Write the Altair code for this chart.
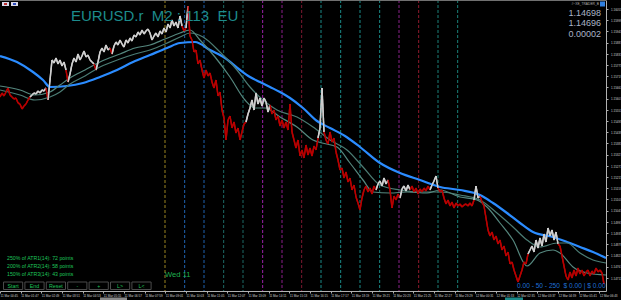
import datetime as dt
import altair as alt
import pandas as pd

# ---------------- data ----------------
START = dt.datetime(2026, 3, 11, 0, 45)   # first bar shown
STEP_MIN = 6                               # one sample every 3 M2 bars
END_MIN = 1818

# close prices, grouped in consecutive falling (d) / rising (u) runs
CLOSE_RUNS = [
    ("d", [1.15615, 1.15635, 1.15620, 1.15640, 1.15660, 1.15625, 1.15615, 1.15605,
           1.15610, 1.15585, 1.15580, 1.15555, 1.15570, 1.15580, 1.15600, 1.15615]),
    ("u", [1.15625, 1.15635, 1.15630, 1.15645, 1.15635, 1.15650, 1.15645, 1.15660]),
    ("d", [1.15600]),
    ("u", [1.15700, 1.15800, 1.15785, 1.15810, 1.15780, 1.15800, 1.15770, 1.15790, 1.15750]),
    ("d", [1.15690]),
    ("u", [1.15730, 1.15780, 1.15810, 1.15790, 1.15830, 1.15800, 1.15820, 1.15845,
           1.15815, 1.15825, 1.15800, 1.15790, 1.15780]),
    ("d", [1.15750]),
    ("u", [1.15790, 1.15840, 1.15860, 1.15840, 1.15875, 1.15850, 1.15860]),
    ("d", [1.15830]),
    ("u", [1.15870, 1.15890, 1.15875, 1.15900, 1.15880, 1.15865, 1.15900, 1.15885,
           1.15910, 1.15895, 1.15925, 1.15915, 1.15940, 1.15925, 1.15950, 1.15930,
           1.15945, 1.15955, 1.15935, 1.15900, 1.15920, 1.15935, 1.15915, 1.15945,
           1.15930, 1.15960, 1.15940, 1.15980, 1.15960, 1.16000, 1.15970, 1.15990,
           1.15960, 1.16020, 1.15970]),
    ("d", [1.15945, 1.15960]),
    ("u", [1.16070]),
    ("d", [1.15920, 1.15900, 1.15840, 1.15850, 1.15780, 1.15800, 1.15750, 1.15710,
           1.15750, 1.15720, 1.15735, 1.15690, 1.15660, 1.15700, 1.15620, 1.15640,
           1.15550, 1.15510, 1.15400, 1.15500, 1.15520, 1.15460, 1.15490, 1.15435,
           1.15460, 1.15400, 1.15440, 1.15480, 1.15490]),
    ("u", [1.15530, 1.15560, 1.15600, 1.15550, 1.15635, 1.15580, 1.15610, 1.15570,
           1.15610, 1.15590, 1.15540, 1.15575]),
    ("d", [1.15530, 1.15550, 1.15500, 1.15520, 1.15470, 1.15500, 1.15460, 1.15490,
           1.15450, 1.15580, 1.15440, 1.15400, 1.15360, 1.15400, 1.15320, 1.15350,
           1.15310, 1.15375, 1.15325, 1.15360, 1.15320, 1.15370, 1.15350, 1.15410]),
    ("u", [1.15460, 1.15660, 1.15440]),
    ("d", [1.15400, 1.15380, 1.15440, 1.15390, 1.15410, 1.15340, 1.15300, 1.15250,
           1.15260, 1.15210, 1.15240, 1.15190, 1.15210, 1.15150, 1.15175, 1.15115,
           1.15085, 1.15050, 1.15110, 1.15150, 1.15170, 1.15140, 1.15160, 1.15130,
           1.15170, 1.15150]),
    ("u", [1.15180, 1.15195, 1.15170, 1.15210, 1.15180, 1.15200]),
    ("d", [1.15150, 1.15060, 1.15120, 1.15100, 1.15130, 1.15110]),
    ("u", [1.15155, 1.15170, 1.15145, 1.15175, 1.15150]),
    ("d", [1.15170, 1.15140, 1.15160, 1.15130, 1.15155, 1.15140, 1.15160, 1.15145,
           1.15170, 1.15150]),
    ("u", [1.15175, 1.15195, 1.15220, 1.15160]),
    ("d", [1.15140, 1.15150, 1.15110, 1.15080, 1.15100, 1.15070, 1.15090, 1.15060,
           1.15085, 1.15070, 1.15080, 1.15065, 1.15075, 1.15080, 1.15070, 1.15085,
           1.15070, 1.15100]),
    ("u", [1.15170, 1.15110, 1.15120]),
    ("d", [1.15090, 1.15070, 1.15010, 1.14950, 1.14920, 1.14940, 1.14900, 1.14920,
           1.14880, 1.14900, 1.14850, 1.14870, 1.14820, 1.14840, 1.14780, 1.14790,
           1.14750, 1.14720, 1.14690, 1.14720, 1.14750, 1.14790, 1.14780, 1.14830]),
    ("u", [1.14850, 1.14870, 1.14840, 1.14900, 1.14860, 1.14910, 1.14870, 1.14930,
           1.14890, 1.14960, 1.14920, 1.14950, 1.14900, 1.14940, 1.14880]),
    ("d", [1.14870, 1.14820, 1.14770, 1.14720, 1.14700, 1.14740, 1.14710, 1.14750,
           1.14720, 1.14760, 1.14730, 1.14750, 1.14720, 1.14740, 1.14750, 1.14720,
           1.14745, 1.14730, 1.14760, 1.14740, 1.14750, 1.14735, 1.14680]),
]

# moving averages: (minutes from start, price)
MA_FAST = [(0, 1.15670), (60, 1.15650), (105, 1.15625), (150, 1.15640), (180, 1.15675),
           (210, 1.15710), (255, 1.15750), (300, 1.15790), (360, 1.15830), (405, 1.15860),
           (450, 1.15875), (495, 1.15905), (540, 1.15935), (570, 1.15950), (600, 1.15900),
           (645, 1.15815), (690, 1.15715), (735, 1.15600), (765, 1.15560), (795, 1.15560),
           (840, 1.15515), (891, 1.15465), (939, 1.15400), (966, 1.15385), (1011, 1.15365),
           (1050, 1.15285), (1089, 1.15200), (1119, 1.15140), (1170, 1.15135), (1221, 1.15140),
           (1281, 1.15135), (1320, 1.15150), (1380, 1.15115), (1431, 1.15100), (1461, 1.15065),
           (1500, 1.14985), (1539, 1.14900), (1581, 1.14770), (1620, 1.14835), (1659, 1.14850),
           (1680, 1.14835), (1719, 1.14765), (1761, 1.14735), (1818, 1.14725)]
MA_MID = [(0, 1.15650), (60, 1.15625), (105, 1.15600), (150, 1.15615), (180, 1.15640),
          (210, 1.15680), (255, 1.15720), (300, 1.15765), (360, 1.15805), (405, 1.15830),
          (450, 1.15850), (495, 1.15880), (540, 1.15915), (570, 1.15935), (609, 1.15915),
          (660, 1.15840), (711, 1.15750), (750, 1.15665), (789, 1.15600), (831, 1.15550),
          (891, 1.15515), (939, 1.15465), (990, 1.15400), (1041, 1.15350), (1089, 1.15265),
          (1140, 1.15175), (1200, 1.15150), (1260, 1.15140), (1320, 1.15140), (1380, 1.15125),
          (1440, 1.15100), (1491, 1.15035), (1539, 1.14965), (1581, 1.14900), (1620, 1.14865),
          (1671, 1.14885), (1701, 1.14885), (1740, 1.14835), (1779, 1.14800), (1818, 1.14785)]
MA_SLOW = [(0, 1.15820), (51, 1.15790), (99, 1.15740), (129, 1.15700), (150, 1.15665),
           (201, 1.15670), (249, 1.15685), (300, 1.15715), (351, 1.15750), (399, 1.15790),
           (450, 1.15825), (501, 1.15860), (540, 1.15885), (585, 1.15890), (630, 1.15850),
           (675, 1.15810), (720, 1.15750), (750, 1.15715), (780, 1.15690), (810, 1.15665),
           (840, 1.15640), (870, 1.15610), (909, 1.15560), (951, 1.15495), (990, 1.15460),
           (1035, 1.15420), (1080, 1.15365), (1140, 1.15285), (1200, 1.15235), (1260, 1.15200),
           (1320, 1.15165), (1380, 1.15150), (1440, 1.15125), (1479, 1.15085), (1521, 1.15035),
           (1560, 1.14985), (1599, 1.14940), (1659, 1.14915), (1701, 1.14890), (1740, 1.14865),
           (1779, 1.14840), (1818, 1.14810)]

# vertical session lines (minutes from start) and their colours
VLINE_MIN = [495, 554, 612, 671, 729, 788, 846, 905, 963, 1022, 1080, 1139, 1197, 1256, 1314, 1373]
VLINE_COL = ["#9a8420", "#1f63b0", "#1f63b0", "#1d6b66", "#1d6b66", "#9b22a8", "#8c1f8c",
             "#7c1830", "#1a8a88", "#1a8a88", "#1a8a88", "#1a8a88", "#8a238a", "#8e1a2c",
             "#1a8078", "#1a8078"]

Y_TICKS = [1.16055, 1.15999, 1.15943, 1.15887, 1.15831, 1.15775, 1.15719, 1.15663,
           1.15607, 1.15551, 1.15495, 1.15439, 1.15383, 1.15327, 1.15271, 1.15215,
           1.15159, 1.15103, 1.15047, 1.14991, 1.14935, 1.14879, 1.14823, 1.14767, 1.14711]
X_TICK_MIN = [0, 62, 124, 186, 248, 310, 372, 434, 496, 558, 620, 682, 744, 806, 868,
              930, 992, 1054, 1116, 1178, 1240, 1302, 1364, 1426, 1488, 1550, 1612, 1674,
              1736, 1798]

TITLE = "EURUSD.r\u00a0\u00a0M2 : 113\u00a0\u00a0EU"
QUOTES = ["1.14698", "1.14696", "0.00002"]
ATR_LINES = ["250% of ATR1(14): 72 points", "200% of ATR2(14): 58 points",
             "150% of ATR3(14): 43 points"]
BUTTONS = ["Start", "End", "Reset", "-", "+", "L>", "L<"]
DAY_LABEL = "Wed 11"
PNL_TEXT = "0.00 - 50 - 250\u00a0\u00a0$ 0.00 | $ 0.00"
EA_TAG = "#~XE_TRADER_B"

# ---------------- build tables ----------------
def ts(m):
    return START + dt.timedelta(minutes=m)

def dtobj(t):
    return alt.DateTime(year=t.year, month=t.month, date=t.day, hours=t.hour, minutes=t.minute)

pts = []
for trend, prices in CLOSE_RUNS:
    for p in prices:
        pts.append((len(pts) * STEP_MIN, p, trend))
seg = pd.DataFrame([{"t": ts(a[0]), "t2": ts(b[0]), "p": a[1], "p2": b[1], "trend": b[2]}
                    for a, b in zip(pts[:-1], pts[1:])])

def ma_df(knots):
    return pd.DataFrame({"t": [ts(m) for m, _ in knots], "p": [p for _, p in knots]})

vl = pd.DataFrame({"t": [ts(m) for m in VLINE_MIN], "c": VLINE_COL})

W, H = 606, 291
xscale = alt.Scale(domain=[dtobj(ts(0)), dtobj(ts(END_MIN))])
yscale = alt.Scale(domain=[1.1610 - H * 0.00005, 1.1610], zero=False, nice=False)
FONT = "Liberation Sans"

x_axis = alt.Axis(values=[dtobj(ts(m)) for m in X_TICK_MIN], format="%d %b %H:%M",
                  labelFontSize=3, labelColor="#d0d0d0", labelAlign="left",
                  labelPadding=1.5, tickSize=2, tickColor="#b0b0b0", domainColor="#b0b0b0",
                  labelOverlap=False, labelBound=False, labelFlush=False, grid=False,
                  title=None, labelFont=FONT)
y_axis = alt.Axis(orient="right", values=Y_TICKS, format=".5f", labelFontSize=3,
                  labelColor="#d0d0d0", labelPadding=2.5, tickSize=2, tickColor="#b0b0b0",
                  domainColor="#b0b0b0", labelOverlap=False, labelBound=False,
                  labelFlush=False, grid=False, title=None, labelFont=FONT)

X = lambda f: alt.X(f, scale=xscale, axis=x_axis)
Y = lambda f: alt.Y(f, scale=yscale, axis=y_axis)

vlines = alt.Chart(vl).mark_rule(strokeDash=[3, 2], strokeWidth=1).encode(
    x=X("t:T"), color=alt.Color("c:N", scale=None))

price = alt.Chart(seg).mark_rule(strokeWidth=1.4, clip=True).encode(
    x=X("t:T"),
    x2="t2:T",
    y=Y("p:Q"),
    y2="p2:Q",
    color=alt.Color("trend:N", scale=alt.Scale(domain=["d", "u"], range=["#b80000", "#cfcfcf"]),
                    legend=None),
)

def ma_line(knots, color, width):
    return alt.Chart(ma_df(knots)).mark_line(color=color, strokeWidth=width,
                                             interpolate="monotone", clip=True).encode(
        x=X("t:T"), y=Y("p:Q"))

def label(text, x, y, color, size, align="left", baseline="middle"):
    return alt.Chart(pd.DataFrame({"s": [text]})).mark_text(
        align=align, baseline=baseline, color=color, fontSize=size, font=FONT).encode(
        x=alt.value(x), y=alt.value(y), text="s:N")

def box(x0, x1, y0, y1, fill, stroke=None):
    kw = {"fill": fill}
    if stroke:
        kw.update(stroke=stroke, strokeWidth=1)
    return alt.Chart(pd.DataFrame({"s": [0]})).mark_rect(**kw).encode(
        x=alt.value(x0), x2=alt.value(x1), y=alt.value(y0), y2=alt.value(y1))

layers = [price,
          vlines,
          ma_line(MA_SLOW, "#2b8cff", 2.2),
          ma_line(MA_MID, "#4b7c74", 1.2),
          ma_line(MA_FAST, "#55877e", 1.2),
          price]

# top border
layers.append(alt.Chart(pd.DataFrame({"s": [0]})).mark_rule(color="#707070", strokeWidth=1).encode(
    x=alt.value(0), x2=alt.value(W), y=alt.value(0.5)))

layers.append(label(TITLE, 71, 21, "#1d8c8c", 15, baseline="alphabetic"))
for i, q in enumerate(QUOTES):
    layers.append(label(q, 601, 15.5 + 10.8 * i, "#aab4c6", 9, align="right", baseline="alphabetic"))
layers.append(label(EA_TAG, 599, 4, "#b0b0b0", 3.3, align="right"))
layers.append(box(600, 605, 1.5, 6.5, "#2f7fe0"))
layers.append(box(2, 9, 2, 6, "#d8d8e8"))
layers.append(box(11, 18, 2, 6, "#d8d8e8"))
layers.append(box(4, 7, 3, 5, "#c03030"))
layers.append(box(13, 16, 3, 5, "#3050c0"))

for i, s in enumerate(ATR_LINES):
    layers.append(label(s, 7, 258.3 + 7.7 * i, "#1fc45a", 5.2))

for i, b in enumerate(BUTTONS):
    x0 = 3.5 + 21.4 * i
    layers.append(box(x0, x0 + 19.2, 282, 289.5, "#000000", "#4a4a4a"))
    layers.append(label(b, x0 + 9.6, 285.9, "#1fc45a", 5.3, align="center"))

layers.append(alt.Chart(pd.DataFrame({"t": [ts(VLINE_MIN[0])], "s": [DAY_LABEL]})).mark_text(
    align="left", baseline="middle", color="#1fb04f", fontSize=7.6, font=FONT).encode(
    x=X("t:T"), y=alt.value(275), text="s:N"))

layers.append(label(PNL_TEXT, 517, 286, "#1f6fd6", 6.6))

# scroll markers under the time axis
layers.append(box(100, 127, 297.5, 300, "#8a8a8a"))
layers.append(box(505, 523, 297.5, 300, "#1a8a8a"))

chart = alt.layer(*layers).properties(
    width=W, height=H, background="#000000",
    autosize=alt.AutoSizeParams(type="none"),
    padding={"left": 0, "top": 0, "right": 15, "bottom": 9},
).configure_view(stroke=None)

chart.save("out.html", embed_options={"renderer": "svg", "actions": False})
